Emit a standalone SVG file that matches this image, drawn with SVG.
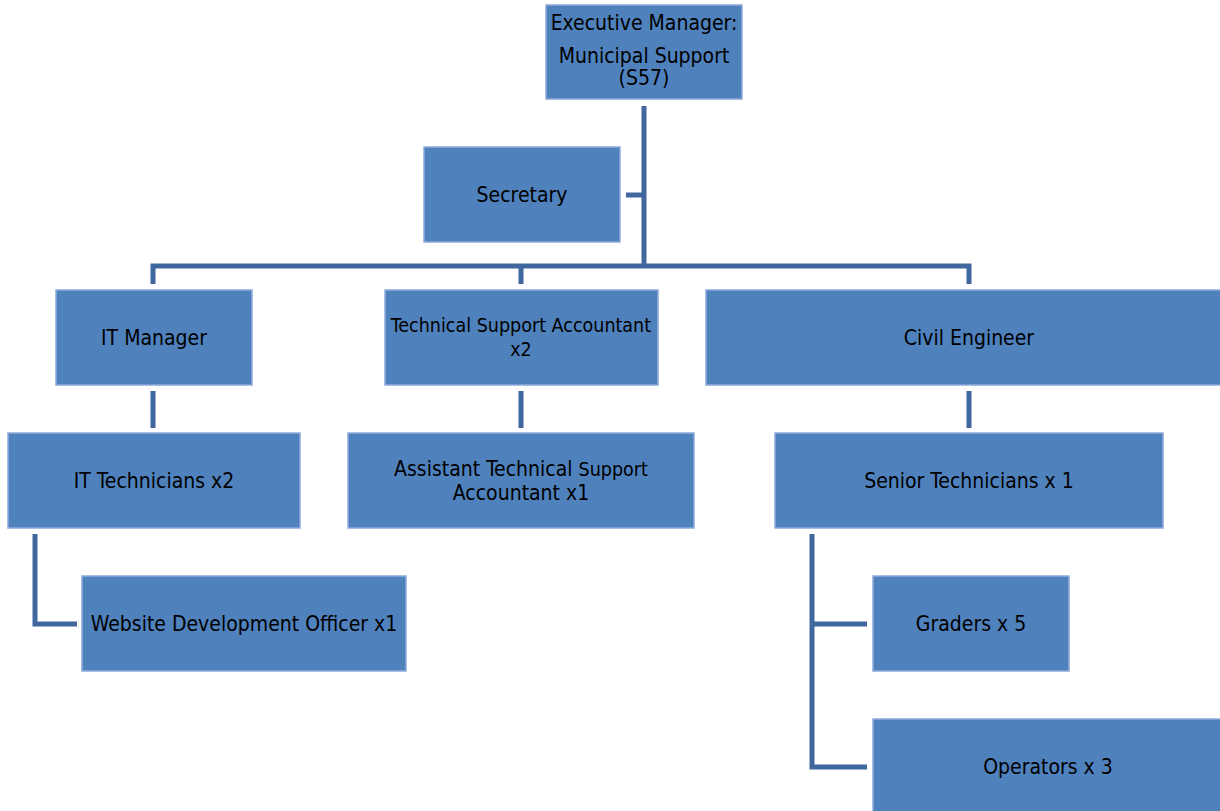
<svg xmlns="http://www.w3.org/2000/svg" width="1220" height="811" viewBox="0 0 1220 811">
<style>
.box{fill:#4F81BD;stroke:#8EAADB;stroke-width:1.5}
.t{font-family:"DejaVu Sans Condensed","DejaVu Sans",sans-serif;font-size:21px;fill:#000;text-anchor:middle}
.s{font-size:19.5px}
.c{fill:none;stroke:#41689E;stroke-width:5;stroke-linejoin:miter}
</style>
<rect width="1220" height="811" fill="#fff"/>
<g id="connectors">
<path class="c" d="M644 106V266"/>
<path class="c" d="M626 195H644"/>
<path class="c" d="M153 284V266H969V284M521 266V284"/>
<path class="c" d="M153 391V428M521 391V428M969 391V428"/>
<path class="c" d="M35 534V624H77"/>
<path class="c" d="M812 534V767H867M812 624H867"/>
</g>
<g id="exec"><rect class="box" x="546" y="5" width="196" height="94"/>
<text class="t" x="644" y="30">Executive Manager:</text><text class="t" x="644" y="63">Municipal Support</text><text class="t" x="644" y="85">(S57)</text></g>
<g id="secretary"><rect class="box" x="424" y="147" width="196" height="95"/><text class="t" x="522" y="202">Secretary</text></g>
<g id="it-manager"><rect class="box" x="56" y="290" width="196" height="95"/><text class="t" x="154" y="345">IT Manager</text></g>
<g id="tsa"><rect class="box" x="385" y="290" width="273" height="95"/><text class="t s" x="521" y="332">Technical Support Accountant</text><text class="t s" x="521" y="356">x2</text></g>
<g id="civil"><rect class="box" x="706" y="290" width="516" height="95"/><text class="t" x="969" y="345">Civil Engineer</text></g>
<g id="it-tech"><rect class="box" x="8" y="433" width="292" height="95"/><text class="t" x="154" y="488">IT Technicians x2</text></g>
<g id="atsa"><rect class="box" x="348" y="433" width="346" height="95"/><text class="t" x="521" y="476">Assistant Technical <tspan class="s">Support</tspan></text><text class="t" x="521" y="500">Accountant x1</text></g>
<g id="senior"><rect class="box" x="775" y="433" width="388" height="95"/><text class="t" x="969" y="488">Senior Technicians x 1</text></g>
<g id="website"><rect class="box" x="82" y="576" width="324" height="95"/><text class="t" x="244" y="631">Website Development Officer x1</text></g>
<g id="graders"><rect class="box" x="873" y="576" width="196" height="95"/><text class="t" x="971" y="631">Graders x 5</text></g>
<g id="operators"><rect class="box" x="873" y="719" width="349" height="95"/><text class="t" x="1048" y="774">Operators x 3</text></g>
</svg>
